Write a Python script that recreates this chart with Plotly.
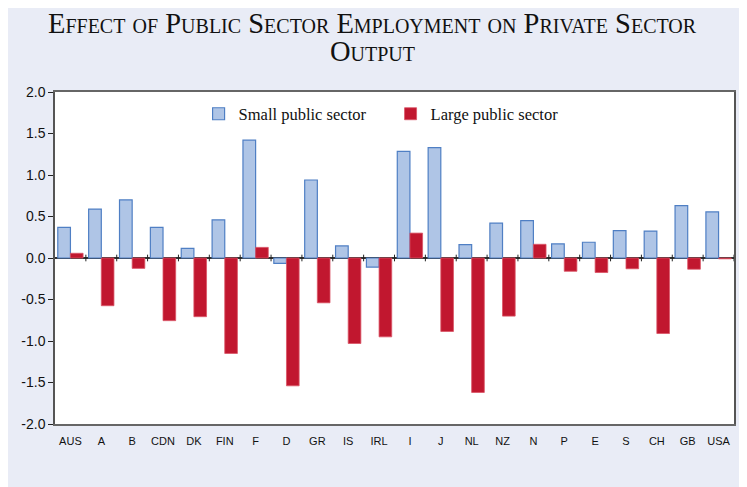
import plotly.graph_objects as go

countries = ["AUS", "A", "B", "CDN", "DK", "FIN", "F", "D", "GR", "IS", "IRL",
             "I", "J", "NL", "NZ", "N", "P", "E", "S", "CH", "GB", "USA"]
small_public = [0.37, 0.59, 0.70, 0.37, 0.115, 0.46, 1.42, -0.065, 0.94, 0.145, -0.11,
                1.285, 1.33, 0.16, 0.42, 0.45, 0.17, 0.19, 0.33, 0.325, 0.63, 0.555]
large_public = [0.057, -0.575, -0.125, -0.755, -0.707, -1.15, 0.128, -1.54, -0.54, -1.03, -0.95,
                0.30, -0.885, -1.62, -0.70, 0.165, -0.16, -0.175, -0.13, -0.91, -0.135, -0.01]
y_ticks = [-2.0, -1.5, -1.0, -0.5, 0.0, 0.5, 1.0, 1.5, 2.0]
title_lines = ["Effect of Public Sector Employment on Private Sector", "Output"]

W, H = 733, 479
L, R, T, B = 47, 5, 84, 63
pw, ph = W - L - R, H - T - B

def px_to_paper_x(px):
    return (px - L) / pw

def px_to_paper_y(py):
    return (H - B - py) / ph

fig = go.Figure()
fig.add_trace(go.Bar(
    x=countries, y=small_public, name="Small public sector",
    marker=dict(color="#AFC5E6", line=dict(color="#4F7FC4", width=1.2)),
))
fig.add_trace(go.Bar(
    x=countries, y=large_public, name="Large public sector",
    marker=dict(color="#C1172F", line=dict(color="#DB5466", width=0.8)),
))

shapes = []
# category boundary ticks on the zero line
for i in range(len(countries)):
    shapes.append(dict(type="line", xref="x", yref="y", layer="above",
                       x0=i + 0.5, x1=i + 0.5, y0=-0.04, y1=0.04,
                       line=dict(color="#222222", width=1)))

annotations = []
for line_text, ypx in zip(title_lines, [15, 43]):
    annotations.append(dict(text=line_text, xref="paper", yref="paper",
                            x=px_to_paper_x(365), y=px_to_paper_y(ypx),
                            xanchor="center", yanchor="middle", showarrow=False,
                            font=dict(family="Liberation Serif", size=28.5, color="#111111",
                                      variant="small-caps")))

fig.update_layout(
    width=W, height=H,
    margin=dict(l=L, r=R, t=T, b=B),
    paper_bgcolor="#E9ECF6",
    plot_bgcolor="white",
    barmode="group", bargap=0.18, bargroupgap=0,
    showlegend=True,
    legend=dict(orientation="h", x=px_to_paper_x(191), y=px_to_paper_y(88.5),
                xanchor="left", yanchor="top", bgcolor="rgba(0,0,0,0)",
                font=dict(family="Liberation Serif", size=16.5, color="#111111"),
                entrywidth=147, entrywidthmode="pixels", itemwidth=30),
    shapes=shapes,
    annotations=annotations,
    font=dict(family="Liberation Sans", color="#111111"),
)
fig.update_xaxes(
    type="category", showgrid=False, ticks="",
    showline=True, mirror=True, linecolor="#666666", linewidth=1.5,
    tickfont=dict(size=11, family="Liberation Sans"), ticklabelstandoff=6,
    range=[-0.5, len(countries) - 0.5],
)
fig.update_yaxes(
    range=[-2, 2], tickvals=y_ticks, ticktext=[f"{v:.1f}" for v in y_ticks],
    showgrid=False, zeroline=True, zerolinecolor="#333333", zerolinewidth=1.5,
    showline=True, mirror=True, linecolor="#555555", linewidth=1.5,
    ticks="outside", ticklen=5, tickcolor="#222222",
    tickfont=dict(size=14, family="Liberation Sans"),
)
fig.write_html("out.html")
